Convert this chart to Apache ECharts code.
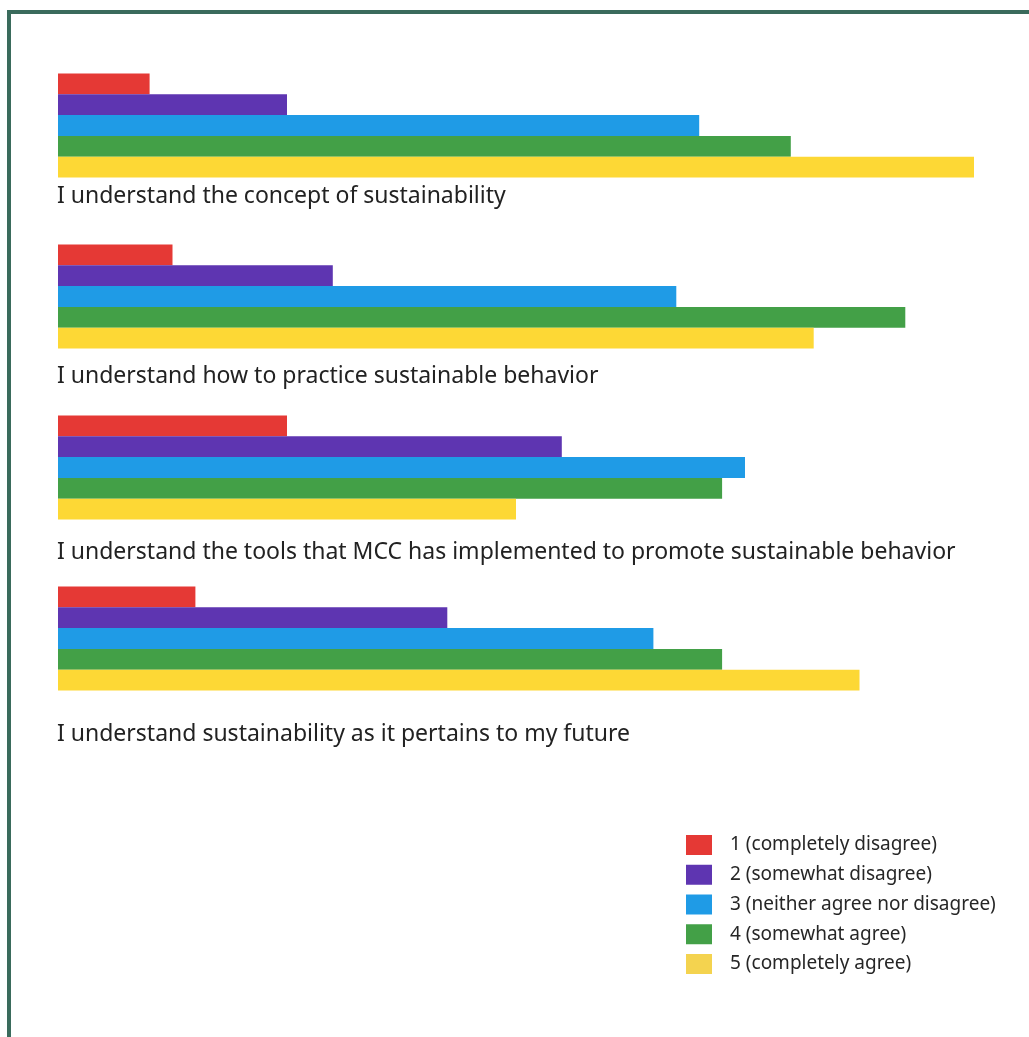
<!DOCTYPE html>
<html><head><meta charset="utf-8">
<script src="https://cdn.jsdelivr.net/npm/echarts@6/dist/echarts.min.js"></script>
<style>html,body{margin:0;padding:0;background:#fff}#c{width:1029px;height:1037px}</style>
</head><body><div id="c"></div>
<script>
const categories = [
  'I understand the concept of sustainability',
  'I understand how to practice sustainable behavior',
  'I understand the tools that MCC has implemented to promote sustainable behavior',
  'I understand sustainability as it pertains to my future'
];
const seriesNames = ['1 (completely disagree)','2 (somewhat disagree)','3 (neither agree nor disagree)','4 (somewhat agree)','5 (completely agree)'];
const s1 = [4, 5, 10, 6];
const s2 = [10, 12, 22, 17];
const s3 = [28, 27, 30, 26];
const s4 = [32, 37, 29, 29];
const s5 = [40, 33, 20, 35];
const colors = ['#e53935','#5e35b1','#1f9be6','#43a047','#fdd835'];
const legendColors = ['#e53935','#5e35b1','#1f9be6','#43a047','#f4d34f'];
const labelDrop = [6, 15, 20, 31];

const values = [s1, s2, s3, s4, s5];
const chart = echarts.init(document.getElementById('c'));
chart.setOption({
  animation: false,
  color: colors,
  textStyle: {fontFamily: 'Noto Sans'},
  grid: {left: 58, width: 916, top: 40, height: 684},
  xAxis: {type: 'value', min: 0, max: 40, show: false},
  yAxis: {type: 'category', inverse: true, data: categories, show: false},
  legend: {
    orient: 'vertical', left: 686, top: 835, padding: 0, itemWidth: 26, itemHeight: 20, itemGap: 9.75,
    icon: 'rect',
    data: seriesNames.map((n, i) => ({name: n, itemStyle: {color: legendColors[i]}})),
    textStyle: {fontSize: 19, color: '#262626', padding: [0, 0, 0, 13], fontFamily: 'Noto Sans'}
  },
  graphic: [{type: 'rect', shape: {x: 9, y: 12, width: 1200, height: 1200},
    style: {fill: 'none', stroke: '#3a6b5c', lineWidth: 4}, silent: true}],
  series: seriesNames.map((n, i) => ({
    name: n, type: 'bar', barWidth: 20.8, barGap: '0%',
    data: values[i].map((v, j) => i === 4 ? {
      value: v,
      label: {show: true, position: [-1, '100%'], offset: [0, labelDrop[j]], align: 'left', verticalAlign: 'top',
        formatter: () => categories[j], fontSize: 23, lineHeight: 26, color: '#222', fontFamily: 'Noto Sans'}
    } : v)
  }))
});
</script></body></html>
